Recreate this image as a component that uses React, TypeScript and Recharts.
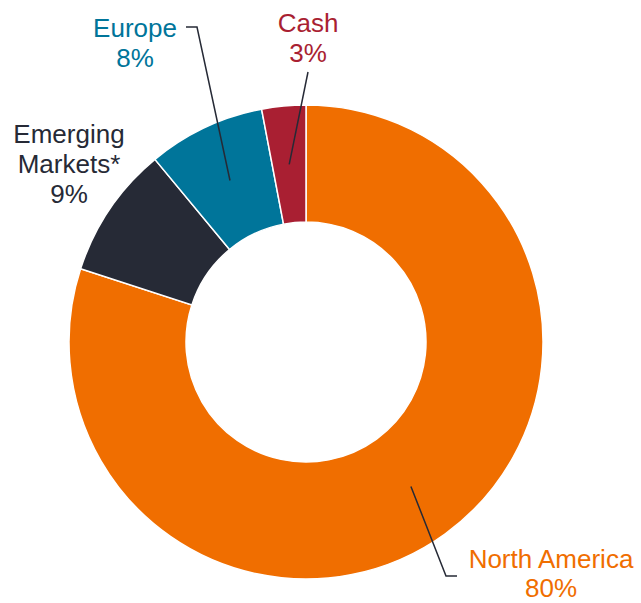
import { PieChart, Pie, Cell } from 'recharts';

const regions = ['North America', 'Emerging Markets*', 'Europe', 'Cash'];
const weights = [80, 9, 8, 3];
const colors = ['#F06E00', '#262A36', '#00759A', '#A91F32'];

const data = regions.map((name, i) => ({ name, value: weights[i] }));

const RAD = Math.PI / 180;
const FONT = '"Liberation Sans", Arial, sans-serif';
const LINE = '#262A36';

// label placement per slice (text lines, anchor point, leader path)
const labelLayout: Record<string, { lines: string[]; x: number; y: number; gap: number; bend?: number[][] }> = {
  'North America': { lines: ['North America', '80%'], x: 551, y: 568, gap: 29, bend: [[446, 576], [457, 576]] },
  'Emerging Markets*': { lines: ['Emerging', 'Markets*', '9%'], x: 69, y: 143, gap: 30 },
  Europe: { lines: ['Europe', '8%'], x: 135, y: 37, gap: 30, bend: [[197, 27], [186, 27]] },
  Cash: { lines: ['Cash', '3%'], x: 308, y: 32, gap: 30, bend: [[308, 72]] },
};

function renderLabel(props: any) {
  const { cx, cy, midAngle, innerRadius, outerRadius, index } = props;
  const name = regions[index];
  const layout = labelLayout[name];
  const r = (innerRadius + outerRadius) / 2;
  const ax = cx + r * Math.cos(-midAngle * RAD);
  const ay = cy + r * Math.sin(-midAngle * RAD);
  const color = colors[index];
  const pts = layout.bend ? [[ax, ay], ...layout.bend] : null;
  return (
    <g key={name}>
      {pts && (
        <polyline
          points={pts.map((p) => p.join(',')).join(' ')}
          fill="none"
          stroke={LINE}
          strokeWidth={1.5}
        />
      )}
      <text x={layout.x} y={layout.y} textAnchor="middle" fill={color} fontSize={26} fontFamily={FONT}>
        {layout.lines.map((l, i) => (
          <tspan key={i} x={layout.x} dy={i === 0 ? 0 : layout.gap}>
            {l}
          </tspan>
        ))}
      </text>
    </g>
  );
}

export default function App() {
  return (
    <div style={{ position: 'absolute', left: 0, top: 0, width: 641, height: 603, background: '#fff' }}>
      <PieChart width={641} height={603} margin={{ top: 0, right: 0, bottom: 0, left: 0 }}>
        <Pie
          data={data}
          dataKey="value"
          nameKey="name"
          cx={306}
          cy={342}
          innerRadius={120}
          outerRadius={237}
          startAngle={90}
          endAngle={-270}
          stroke="#ffffff"
          strokeWidth={1.5}
          label={renderLabel}
          labelLine={false}
          isAnimationActive={false}
        >
          {data.map((d, i) => (
            <Cell key={d.name} fill={colors[i]} />
          ))}
        </Pie>
      </PieChart>
    </div>
  );
}
